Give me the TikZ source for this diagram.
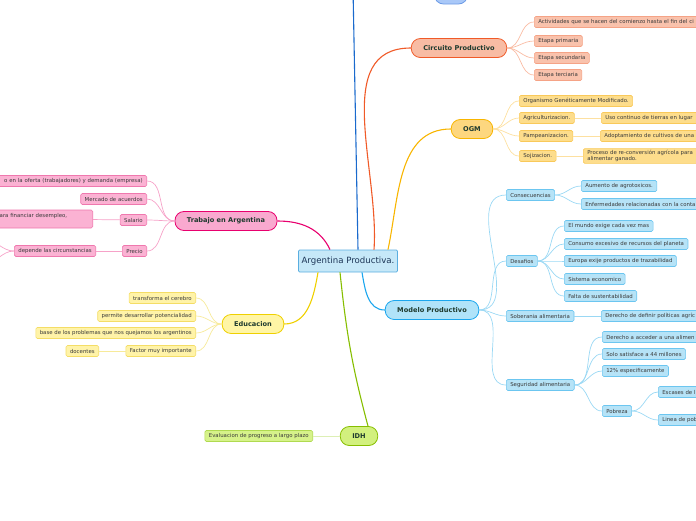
\documentclass[tikz,border=0pt]{standalone}
\usepackage{fontspec}
\setmainfont{DejaVu Sans}
\usetikzlibrary{positioning}
\definecolor{aproot}{HTML}{C6E8F8}
\definecolor{aprootedge}{HTML}{5AAEE0}
\definecolor{aproottext}{HTML}{1C3556}
\definecolor{aptext}{HTML}{1E3A2E}
\definecolor{apleaftext}{HTML}{3A3A3A}
\definecolor{apbl}{HTML}{1A6ACD}
\definecolor{apblfill}{HTML}{A9C8F8}
\definecolor{apbledge}{HTML}{6E9CE6}
\definecolor{apor}{HTML}{F05A28}
\definecolor{aporfill}{HTML}{F8BCA4}
\definecolor{aporleaf}{HTML}{F9C2AC}
\definecolor{aporedge}{HTML}{F5A386}
\definecolor{aporthin}{HTML}{F9BBA2}
\definecolor{apam}{HTML}{F8B500}
\definecolor{apamfill}{HTML}{FDD77F}
\definecolor{apamleaf}{HTML}{FDDD8C}
\definecolor{apamedge}{HTML}{F9C95A}
\definecolor{apamthin}{HTML}{FDE0A0}
\definecolor{appk}{HTML}{E8006E}
\definecolor{appkfill}{HTML}{F9A9CF}
\definecolor{appkleaf}{HTML}{FBB2D3}
\definecolor{appkedge}{HTML}{EF78AE}
\definecolor{appkthin}{HTML}{F6A2C8}
\definecolor{apye}{HTML}{EFD000}
\definecolor{apyefill}{HTML}{FFF5A5}
\definecolor{apyeleaf}{HTML}{FFF3A8}
\definecolor{apyeedge}{HTML}{F4DD66}
\definecolor{apyethin}{HTML}{F7EA9A}
\definecolor{apcy}{HTML}{1BA6EE}
\definecolor{apcyfill}{HTML}{B0E3F9}
\definecolor{apcyleaf}{HTML}{B6E3F7}
\definecolor{apcyedge}{HTML}{6CC6F0}
\definecolor{apcythin}{HTML}{9AD8F4}
\definecolor{apgr}{HTML}{86BE00}
\definecolor{apgrfill}{HTML}{D2F07E}
\definecolor{apgrleaf}{HTML}{D6F28A}
\definecolor{apgredge}{HTML}{B0DA50}
\definecolor{apgrthin}{HTML}{DDEFB5}
\tikzset{
  aprootbox/.style={draw=aprootedge, fill=aproot, line width=.8pt, rounded corners=1pt, minimum height=22pt, inner xsep=3pt, text=aproottext, font=\fontsize{8.6}{10}\selectfont},
  aptopic/.style={rounded corners=9pt, minimum height=19pt, inner xsep=12pt, line width=.8pt, text=aptext, font=\fontsize{6.6}{7.5}\selectfont\bfseries},
  apleaf/.style={rounded corners=1.5pt, minimum height=11pt, inner xsep=4pt, inner ysep=1.5pt, line width=.6pt, text=apleaftext, font=\fontsize{5.4}{6.4}\selectfont},
  apcut/.style={text width=#1, align=left},
  apcutleft/.style={text width=#1, align=right},
  bltopic/.style={aptopic, draw=apbledge, fill=apblfill},
  ortopic/.style={aptopic, draw=apor, fill=aporfill},
  orleaf/.style={apleaf, draw=aporedge, fill=aporleaf},
  amtopic/.style={aptopic, draw=apam, fill=apamfill},
  amleaf/.style={apleaf, draw=apamedge, fill=apamleaf},
  pktopic/.style={aptopic, draw=appk, fill=appkfill},
  pkleaf/.style={apleaf, draw=appkedge, fill=appkleaf},
  yetopic/.style={aptopic, draw=apye, fill=apyefill},
  yeleaf/.style={apleaf, draw=apyeedge, fill=apyeleaf},
  cytopic/.style={aptopic, draw=apcy, fill=apcyfill},
  cyleaf/.style={apleaf, draw=apcyedge, fill=apcyleaf},
  grtopic/.style={aptopic, draw=apgr, fill=apgrfill},
  grleaf/.style={apleaf, draw=apgredge, fill=apgrleaf},
  apmain/.style={line width=1.1pt, draw=#1},
  apthin/.style={line width=.7pt, draw=#1}
}
\begin{document}
\begin{tikzpicture}[x=1pt, y=-1pt]
  \useasboundingbox (0,0) rectangle (696,520);
  \node[aprootbox] (root) at (348,261) {Argentina Productiva.};

  % top branch, mostly off the page
  \coordinate (upper) at (353,-12);
  \node[bltopic, minimum width=33pt, minimum height=16pt] (topnode) at (451,-4) {};
  \draw[apmain=apbl] ([xshift=10pt]root.north) -- (upper);

  % Circuito Productivo
  \node[ortopic] (circ) at (459,48) {Circuito Productivo};
  \node[orleaf, anchor=west, apcut=200pt] (actividades) at (534,22) {Actividades que se hacen del comienzo hasta el fin del ci};
  \node[orleaf, anchor=west] (primaria) at (534,41) {Etapa primaria};
  \node[orleaf, anchor=west] (secundaria) at (534,58) {Etapa secundaria};
  \node[orleaf, anchor=west] (terciaria) at (534,75) {Etapa terciaria};
  \draw[apmain=apor] ([xshift=26pt]root.north) to[out=86,in=180] (circ.west);
  \foreach \leaf in {actividades,primaria,secundaria,terciaria}
    \draw[apthin=aporthin] (circ.east) to[out=0,in=180] (\leaf.west);

  % OGM
  \node[amtopic] (ogm) at (472,129) {OGM};
  \node[amleaf, anchor=west] (ogmdef) at (519,101) {Organismo Genéticamente Modificado.};
  \node[amleaf, anchor=west] (agri) at (519,118) {Agriculturizacion.};
  \node[amleaf, anchor=west] (pampa) at (519,136) {Pampeanizacion.};
  \node[amleaf, anchor=west] (soja) at (519,156) {Sojizacion.};
  \node[amleaf, anchor=west, apcut=120pt] (agriuso) at (601,118) {Uso continuo de tierras en lugar};
  \node[amleaf, anchor=west, apcut=120pt] (pampaadop) at (600,136) {Adoptamiento de cultivos de una};
  \node[amleaf, anchor=west, apcut=120pt] (sojaproc) at (583,156) {Proceso de re-conversión agrícola para\\alimentar ganado.};
  \draw[apmain=apam] ([xshift=40pt]root.north) to[out=78,in=180] (ogm.west);
  \foreach \leaf in {ogmdef,agri,pampa,soja}
    \draw[apthin=apamthin] (ogm.east) to[out=0,in=180] (\leaf.west);
  \draw[apthin=apamthin] (agri) -- (agriuso);
  \draw[apthin=apamthin] (pampa) -- (pampaadop);
  \draw[apthin=apamthin] (soja) -- (sojaproc);

  % Trabajo en Argentina
  \node[pktopic] (trabajo) at (226,221) {Trabajo en Argentina};
  \node[pkleaf, anchor=east, apcutleft=160pt] (oferta) at (147,181) {o en la oferta (trabajadores) y demanda (empresa)};
  \node[pkleaf, anchor=east] (mercado) at (147,199) {Mercado de acuerdos};
  \node[pkleaf, anchor=east] (salario) at (147,220) {Salario};
  \node[pkleaf, anchor=east, apcut=89pt, minimum height=18pt] (financiar) at (93,219) {ara financiar desempleo,\\\phantom{x}};
  \node[pkleaf, anchor=east] (precio) at (147,251) {Precio};
  \node[pkleaf, anchor=east] (circunst) at (96,251) {depende las circunstancias};
  \coordinate (circa) at (-15,240);
  \coordinate (circb) at (-15,263);
  \draw[apmain=appk] ([xshift=-18pt]root.north) to[out=115,in=0] (trabajo.east);
  \foreach \leaf in {oferta,mercado,salario,precio}
    \draw[apthin=appkthin] (trabajo.west) to[out=180,in=0] (\leaf.east);
  \draw[apthin=appkthin] (salario) -- (financiar);
  \draw[apthin=appkthin] (precio) -- (circunst);
  \draw[apthin=appkthin] (circunst.west) to[out=180,in=0] (circa);
  \draw[apthin=appkthin] (circunst.west) to[out=180,in=0] (circb);

  % Educacion
  \node[yetopic] (educ) at (253,324) {Educacion};
  \node[yeleaf, anchor=east] (cerebro) at (196,298) {transforma el cerebro};
  \node[yeleaf, anchor=east] (potencial) at (196,316) {permite desarrollar potencialidad};
  \node[yeleaf, anchor=east] (quejas) at (196,333) {base de los problemas que nos quejamos los argentinos};
  \node[yeleaf, anchor=east] (factor) at (196,351) {Factor muy importante};
  \node[yeleaf, anchor=east] (docentes) at (99,351) {docentes};
  \draw[apmain=apye] ([xshift=-30pt]root.south) to[out=-100,in=0] (educ.east);
  \foreach \leaf in {cerebro,potencial,quejas,factor}
    \draw[apthin=apyethin] (educ.west) to[out=180,in=0] (\leaf.east);
  \draw[apthin=apyethin] (factor) -- (docentes);

  % Modelo Productivo
  \node[cytopic] (modelo) at (432,310) {Modelo Productivo};
  \node[cyleaf, anchor=west] (consec) at (506,195) {Consecuencias};
  \node[cyleaf, anchor=west] (agrotox) at (581,186) {Aumento de agrotoxicos.};
  \node[cyleaf, anchor=west, apcut=140pt] (enferm) at (581,204) {Enfermedades relacionadas con la conta};
  \node[cyleaf, anchor=west] (desafios) at (506,261) {Desafios};
  \node[cyleaf, anchor=west] (exige) at (564,226) {El mundo exige cada vez mas};
  \node[cyleaf, anchor=west] (consumo) at (564,244) {Consumo excesivo de recursos del planeta};
  \node[cyleaf, anchor=west] (europa) at (564,261) {Europa exije productos de trazabilidad};
  \node[cyleaf, anchor=west] (sistema) at (564,279) {Sistema economico};
  \node[cyleaf, anchor=west] (falta) at (564,296) {Falta de sustentabilidad};
  \node[cyleaf, anchor=west] (soberania) at (506,316) {Soberania alimentaria};
  \node[cyleaf, anchor=west, apcut=120pt] (politicas) at (601,316) {Derecho de definir políticas agríc};
  \node[cyleaf, anchor=west] (seguridad) at (506,385) {Seguridad alimentaria};
  \node[cyleaf, anchor=west, apcut=120pt] (acceder) at (602,337) {Derecho a acceder a una alimen};
  \node[cyleaf, anchor=west] (satisface) at (602,354) {Solo satisface a 44 millones};
  \node[cyleaf, anchor=west] (doce) at (602,371) {12\% especificamente};
  \node[cyleaf, anchor=west] (pobreza) at (602,411) {Pobreza};
  \node[cyleaf, anchor=west, apcut=80pt] (escases) at (658,392) {Escases de l};
  \node[cyleaf, anchor=west, apcut=80pt] (linea) at (658,420) {Linea de pob};
  \draw[apmain=apcy] ([xshift=14pt]root.south) to[out=-80,in=180] (modelo.west);
  \foreach \leaf in {consec,desafios,soberania,seguridad}
    \draw[apthin=apcythin] (modelo.east) to[out=0,in=180] (\leaf.west);
  \foreach \leaf in {agrotox,enferm}
    \draw[apthin=apcythin] (consec.east) to[out=0,in=180] (\leaf.west);
  \foreach \leaf in {exige,consumo,europa,sistema,falta}
    \draw[apthin=apcythin] (desafios.east) to[out=0,in=180] (\leaf.west);
  \draw[apthin=apcythin] (soberania) -- (politicas);
  \foreach \leaf in {acceder,satisface,doce,pobreza}
    \draw[apthin=apcythin] (seguridad.east) to[out=0,in=180] (\leaf.west);
  \foreach \leaf in {escases,linea}
    \draw[apthin=apcythin] (pobreza.east) to[out=0,in=180] (\leaf.west);

  % IDH
  \node[grtopic] (idh) at (359,436) {IDH};
  \node[grleaf, anchor=east] (evaluacion) at (313,436) {Evaluacion de progreso a largo plazo};
  \draw[apmain=apgr] ([xshift=-8pt]root.south) to[out=-84,in=105] ([xshift=9pt]idh.north);
  \draw[apthin=apgrthin] (idh) -- (evaluacion);
\end{tikzpicture}
\end{document}
